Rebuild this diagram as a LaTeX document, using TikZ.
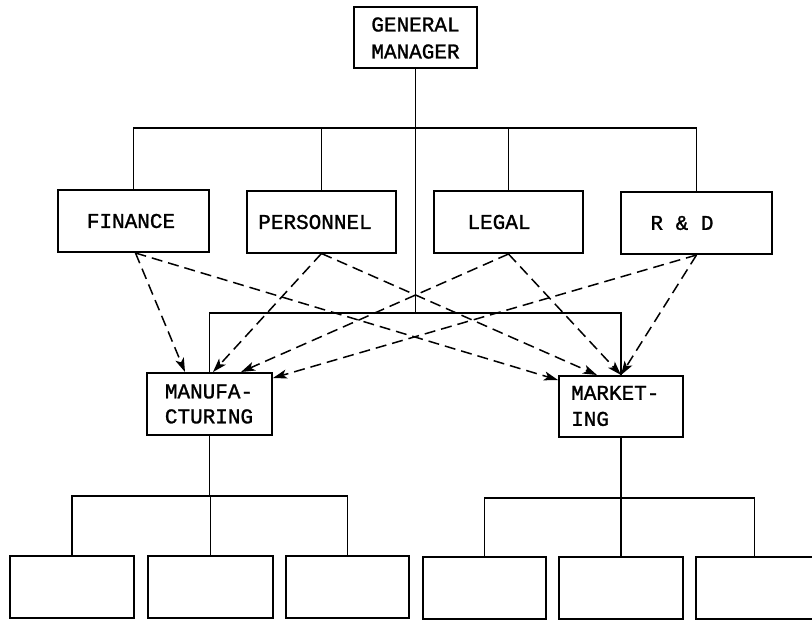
\documentclass[tikz,border=0pt]{standalone}
\usepackage{fontspec}
\newfontfamily\lblfont{Liberation Mono}[FakeBold=1.3]
\usetikzlibrary{arrows.meta,calc}
\begin{document}
\begin{tikzpicture}[x=1pt,y=-1pt,
  box/.style={draw,line width=2pt,inner sep=0pt},
  lbl/.style={inner sep=0pt,font=\lblfont\fontsize{21}{26}\selectfont},
  tree/.style={line width=1.5pt},
  dep/.style={line width=1.5pt,dash pattern=on 11pt off 6pt,
    -{Stealth[length=14pt,width=9pt,inset=3.5pt]}}]
\useasboundingbox (0,0) rectangle (812,625);

% top of the chart
\node[box,minimum width=123pt,minimum height=61pt] (gm) at (415.5,37.5) {};
\node[lbl,align=center,font=\lblfont\fontsize{21}{27}\selectfont] (gmtxt) at (415.5,38) {GENERAL\\MANAGER};

% staff departments
\node[box,minimum width=151pt,minimum height=62pt] (fin) at (133.5,221) {};
\node[box,minimum width=149pt,minimum height=62pt] (per) at (321.5,221.5) {};
\node[box,minimum width=149pt,minimum height=62pt] (leg) at (508.5,222) {};
\node[box,minimum width=151pt,minimum height=62pt] (rnd) at (696.5,223) {};
\node[lbl] (fintxt) at (131,221) {FINANCE};
\node[lbl] (pertxt) at (315,222) {PERSONNEL};
\node[lbl] (legtxt) at (499,222) {LEGAL};
\node[lbl] (rndtxt) at (682,223) {R \& D};

% line departments
\node[box,minimum width=125pt,minimum height=62pt] (manu) at (209.5,404) {};
\node[box,minimum width=124pt,minimum height=61pt] (mark) at (621,406.5) {};
\node[lbl,align=center,font=\lblfont\fontsize{21}{25}\selectfont] (manutxt) at (209,404) {MANUFA-\\CTURING};
\node[lbl,align=left,anchor=west,font=\lblfont\fontsize{21}{26}\selectfont] (marktxt) at (571,406) {MARKET-\\ING};

% units below manufacturing
\node[box,minimum width=124pt,minimum height=62pt] (m1) at (72,587) {};
\node[box,minimum width=125pt,minimum height=62pt] (m2) at (210.5,587) {};
\node[box,minimum width=123pt,minimum height=62pt] (m3) at (347.5,587) {};
% units below marketing
\node[box,minimum width=123pt,minimum height=62pt] (k1) at (484.5,588) {};
\node[box,minimum width=124pt,minimum height=62pt] (k2) at (621,588) {};
\node[box,minimum width=117pt,minimum height=62pt] (k3) at (754.5,588) {};

% reporting lines
\coordinate (topbar) at (415.5,128);
\coordinate (midbar) at (415.5,313);
\draw[tree] (fin.north) |- (topbar) -| (rnd.north);
\draw[tree] (per.north) -- (per.north |- topbar);
\draw[tree] (leg.north) -- (leg.north |- topbar);
\draw[tree] (gm.south) -- (midbar);
\draw[tree] (manu.north) |- (midbar) -| (mark.north);

\coordinate (lbar) at (209.5,496);
\draw[tree] (manu.south) -- (lbar);
\draw[tree] (m1.north) |- (lbar) -| (m3.north);
\draw[tree] (m2.north) -- (m2.north |- lbar);

\coordinate (rbar) at (621,498);
\draw[tree] (mark.south) -- (rbar);
\draw[tree] (k1.north) |- (rbar) -| (k3.north);
\draw[tree] (k2.north) -- (k2.north |- rbar);

% staff services (dashed)
\draw[dep] ($(fin.south)+(2,0)$) -- ($(manu.north)+(-24.5,0)$);
\draw[dep] (per.south) -- ($(manu.north)+(3.5,0)$);
\draw[dep] (leg.south) -- ($(manu.north)+(31.5,0)$);
\draw[dep] (rnd.south) -- ($(manu.north east)+(0,6)$);
\draw[dep] ($(fin.south)+(2,0)$) -- ($(mark.north west)+(0,5)$);
\draw[dep] (per.south) -- ($(mark.north)+(-24,0)$);
\draw[dep] (leg.south) -- (mark.north);
\draw[dep] (rnd.south) -- (mark.north);
\end{tikzpicture}
\end{document}
